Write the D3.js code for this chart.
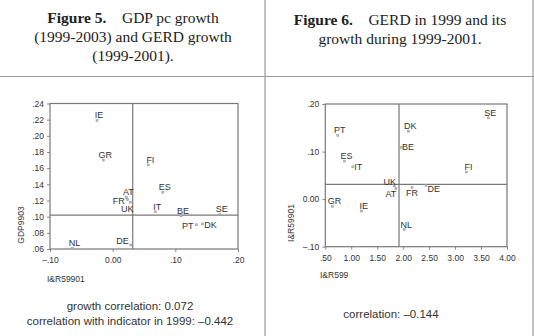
<!DOCTYPE html>
<html>
<head>
<meta charset="utf-8">
<script src="https://cdn.jsdelivr.net/npm/d3@7"></script>
<style>
  body { margin: 0; background: #fff; }
  svg { display: block; }
  .tick text { font-family: "Liberation Sans", Arial, sans-serif; font-size: 8.5px; fill: #333; }
</style>
</head>
<body>
<div id="chart"></div>
<script>
// ---- data ----
const countries   = ["IE", "GR", "FI", "ES", "AT", "FR", "UK", "IT", "BE", "SE", "PT", "DK", "NL", "DE"];
const gerdGrowth  = [-0.025, -0.015, 0.057, 0.080, 0.022, 0.024, 0.028, 0.068, 0.109, 0.171, 0.134, 0.143, -0.064, 0.029];
const gdpGrowth   = [0.219, 0.170, 0.164, 0.130, 0.124, 0.121, 0.118, 0.106, 0.101, 0.103, 0.090, 0.091, 0.061, 0.065];
const gerd1999    = [1.20, 0.64, 3.22, 0.87, 1.86, 2.17, 1.83, 1.03, 1.96, 3.64, 0.74, 2.10, 2.02, 2.44];

const fig5Ticks = { x: [-0.10, 0.00, 0.10, 0.20], y: [0.06, 0.08, 0.10, 0.12, 0.14, 0.16, 0.18, 0.20, 0.22, 0.24] };
const fig6Ticks = { x: [0.5, 1.0, 1.5, 2.0, 2.5, 3.0, 3.5, 4.0], y: [-0.10, 0.00, 0.10, 0.20] };
const fig5RefLines = { x: 0.032, y: 0.102 };
const fig6RefLines = { x: 1.92, y: 0.031 };

const fig5Title = ["Figure 5.", "GDP pc growth", "(1999-2003) and GERD growth", "(1999-2001)."];
const fig6Title = ["Figure 6.", "GERD in 1999 and its", "growth during 1999-2001."];
const fig5Notes = ["growth correlation: 0.072", "correlation with indicator in 1999: \u20130.442"];
const fig6Notes = ["correlation: \u20130.144"];

// label placement tweaks: [dx, dy, anchor]
const fig5Labels = { FR: [-3, 4, "end"], UK: [-3, 9.5, "middle"], PT: [-3, 4, "end"], DK: [2, 4, "start"], DE: [-2, -1, "end"] };
const fig6Labels = { BE: [1, 3, "start"], IT: [1.5, 3.5, "start"], UK: [-4.5, -1, "middle"], AT: [-5, 8.5, "middle"], FR: [0, 8.5, "middle"], DE: [1.5, 6.5, "start"] };

const W = 534, H = 336;
const sans = '"Liberation Sans", Arial, sans-serif';
const serif = '"Liberation Serif", "Times New Roman", serif';

const svg = d3.select("#chart").append("svg").attr("width", W).attr("height", H);

// =========================
// table frame
// =========================
const frame = svg.append("g").attr("stroke", "#999").attr("stroke-width", 1.2);
frame.append("line").attr("x1", 0).attr("x2", W).attr("y1", 76.5).attr("y2", 76.5);
frame.append("line").attr("x1", 265).attr("x2", 265).attr("y1", 0).attr("y2", H);
frame.append("line").attr("x1", 533).attr("x2", 533).attr("y1", 0).attr("y2", H);

// =========================
// headers
// =========================
function header(lines, cx, y0) {
    const t = svg.append("text")
        .attr("text-anchor", "middle")
        .style("font-family", serif)
        .style("font-size", "15.5px")
        .attr("fill", "#222");
    const first = t.append("tspan").attr("x", cx).attr("y", y0);
    first.append("tspan").style("font-weight", "bold").text(lines[0]);
    first.append("tspan").text("\u2003" + lines[1]);
    lines.slice(2).forEach((l, i) => {
        t.append("tspan").attr("x", cx).attr("y", y0 + 19 * (i + 1)).text(l);
    });
}
header(fig5Title, 133, 23);
header(fig6Title, 400, 25);

// =========================
// notes
// =========================
function notes(lines, cx, y0) {
    lines.forEach((l, i) => {
        svg.append("text")
            .attr("x", cx).attr("y", y0 + 15 * i)
            .attr("text-anchor", "middle")
            .style("font-family", sans)
            .style("font-size", "11.5px")
            .attr("fill", "#333")
            .text(l);
    });
}
notes(fig5Notes, 130, 310);
notes(fig6Notes, 391, 317.5);

// =========================
// scatter
// =========================
function fmt(v) {
    if (Math.abs(v) < 1e-9) return "0.00";
    const s = Math.abs(v).toFixed(2);
    const body = Math.abs(v) < 1 ? s.slice(1) : s;
    return (v < 0 ? "\u2013" : "") + body;
}

function scatter(cfg) {
    const x = d3.scaleLinear().domain(cfg.xDomain).range(cfg.xRange);
    const y = d3.scaleLinear().domain(cfg.yDomain).range(cfg.yRange);
    const g = svg.append("g");

    g.append("g")
        .attr("transform", `translate(0,${cfg.yRange[0]})`)
        .call(d3.axisBottom(x).tickValues(cfg.ticks.x).tickFormat(fmt).tickSize(3).tickSizeOuter(0).tickPadding(5))
        .call(a => a.select(".domain").remove())
        .call(a => a.selectAll(".tick line").attr("stroke", "#888"));

    g.append("g")
        .attr("transform", `translate(${cfg.xRange[0]},0)`)
        .call(d3.axisLeft(y).tickValues(cfg.ticks.y).tickFormat(fmt).tickSize(3).tickSizeOuter(0).tickPadding(3))
        .call(a => a.select(".domain").remove())
        .call(a => a.selectAll(".tick line").attr("stroke", "#888"));

    // plot box
    g.append("rect")
        .attr("x", cfg.xRange[0]).attr("y", cfg.yRange[1])
        .attr("width", cfg.xRange[1] - cfg.xRange[0])
        .attr("height", cfg.yRange[0] - cfg.yRange[1])
        .attr("fill", "none").attr("stroke", "#777").attr("stroke-width", 1.2);

    // reference lines
    g.append("line")
        .attr("x1", x(cfg.ref.x)).attr("x2", x(cfg.ref.x))
        .attr("y1", cfg.yRange[0]).attr("y2", cfg.yRange[1])
        .attr("stroke", "#777").attr("stroke-width", 1.2);
    g.append("line")
        .attr("x1", cfg.xRange[0]).attr("x2", cfg.xRange[1])
        .attr("y1", y(cfg.ref.y)).attr("y2", y(cfg.ref.y))
        .attr("stroke", "#777").attr("stroke-width", 1.2);

    const pts = countries.map((c, i) => ({ c, x: cfg.xs[i], y: cfg.ys[i] }));

    g.selectAll("rect.pt")
        .data(pts)
        .enter()
        .append("rect")
        .attr("class", "pt")
        .attr("x", d => x(d.x) - 1)
        .attr("y", d => y(d.y) - 1)
        .attr("width", 2).attr("height", 2)
        .attr("fill", "#bbb").attr("stroke", "#999").attr("stroke-width", 0.5);

    g.selectAll("text.lbl")
        .data(pts)
        .enter()
        .append("text")
        .attr("class", "lbl")
        .each(function (d) {
            const o = cfg.labels[d.c] || [2, -2, "middle"];
            d3.select(this)
                .attr("x", x(d.x) + o[0])
                .attr("y", y(d.y) + o[1])
                .attr("text-anchor", o[2]);
        })
        .style("font-family", sans)
        .style("font-size", "9px")
        .attr("fill", "#333")
        .text(d => d.c);

    // axis titles
    g.append("text")
        .attr("x", cfg.xTitlePos[0]).attr("y", cfg.xTitlePos[1])
        .style("font-family", sans).style("font-size", "8.5px").attr("fill", "#333")
        .text(cfg.xTitle);
    g.append("text")
        .attr("transform", `translate(${cfg.yTitlePos[0]},${cfg.yTitlePos[1]}) rotate(-90)`)
        .attr("text-anchor", "middle")
        .style("font-family", sans).style("font-size", "8.5px").attr("fill", "#333")
        .text(cfg.yTitle);
}

scatter({
    xs: gerdGrowth, ys: gdpGrowth,
    xDomain: [-0.10, 0.20], yDomain: [0.06, 0.24],
    xRange: [50, 238], yRange: [249, 103.5],
    ticks: fig5Ticks, ref: fig5RefLines, labels: fig5Labels,
    xTitle: "I&R59901", xTitlePos: [47, 282],
    yTitle: "GDP9903", yTitlePos: [24, 225]
});

scatter({
    xs: gerd1999, ys: gerdGrowth,
    xDomain: [0.5, 4.0], yDomain: [-0.10, 0.20],
    xRange: [325.3, 507], yRange: [246.7, 104],
    ticks: fig6Ticks, ref: fig6RefLines, labels: fig6Labels,
    xTitle: "I&R599", xTitlePos: [320, 278],
    yTitle: "I&R59901", yTitlePos: [294, 223]
});
</script>
</body>
</html>
